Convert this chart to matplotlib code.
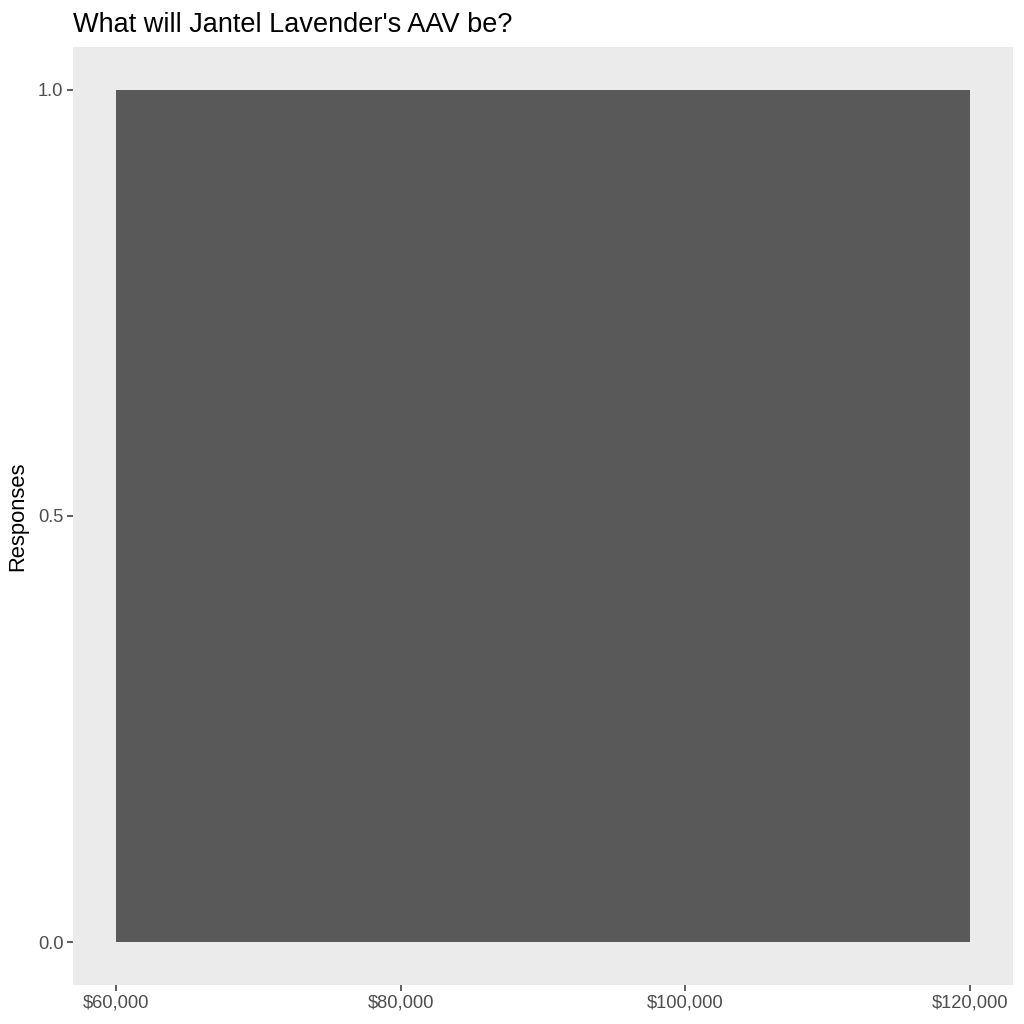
import matplotlib.pyplot as plt
from matplotlib.ticker import FuncFormatter

plt.rcParams['font.family'] = ['Liberation Sans', 'DejaVu Sans']

# one histogram bin
bin_left = [60000]
bin_right = [120000]
responses = [1]

x_ticks = [60000, 80000, 100000, 120000]
y_ticks = [0.0, 0.5, 1.0]

fig = plt.figure(figsize=(10.24, 10.24), dpi=100)
ax = fig.add_axes([73/1024, 1 - 985/1024, (1013 - 73)/1024, (985 - 47)/1024])
ax.set_facecolor('#EBEBEB')

widths = [r - l for l, r in zip(bin_left, bin_right)]
ax.bar(bin_left, responses, width=widths, align='edge', color='#595959', linewidth=0)

span = max(bin_right) - min(bin_left)
ax.set_xlim(min(bin_left) - 0.05*span, max(bin_right) + 0.05*span)
ax.set_ylim(-0.05*max(responses), 1.05*max(responses))

ax.set_xticks(x_ticks)
ax.xaxis.set_major_formatter(FuncFormatter(lambda v, p: '${:,.0f}'.format(v)))
ax.set_yticks(y_ticks)
ax.set_yticklabels(['{:.1f}'.format(v) for v in y_ticks])

for s in ax.spines.values():
    s.set_visible(False)
ax.tick_params(axis='both', colors='#333333', labelcolor='#4D4D4D', labelsize=13.2,
               length=4, width=1.1, pad=3)

ax.set_ylabel('Responses', fontsize=15.8, color='black', labelpad=7)
ax.set_title("What will Jantel Lavender's AAV be?", fontsize=19.5, loc='left', pad=11)

fig.savefig('out.png', dpi=100, facecolor='white')
plt.close(fig)
